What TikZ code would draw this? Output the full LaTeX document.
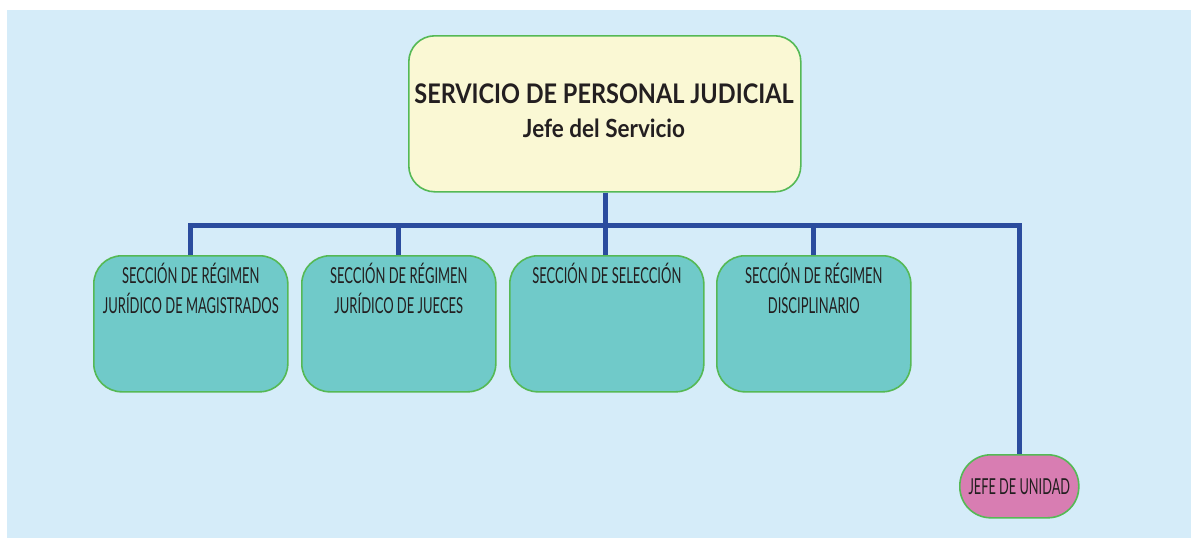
\documentclass[tikz,border=0pt]{standalone}
\usepackage{fontspec}
\setmainfont{Lato}
\usepackage{graphicx}
\definecolor{bgblue}{HTML}{D5ECF9}
\definecolor{topfill}{HTML}{FAF8D4}
\definecolor{secfill}{HTML}{70CAC9}
\definecolor{pinkfill}{HTML}{D87DB2}
\definecolor{edgegreen}{HTML}{55B955}
\definecolor{linkblue}{HTML}{2B4C9E}
\definecolor{txt}{HTML}{231F20}
\tikzset{
  basebox/.style={draw=edgegreen, line width=1.6pt, inner sep=0pt, anchor=north west},
  topbox/.style={basebox, fill=topfill, rounded corners=26pt, minimum width=392pt, minimum height=156pt},
  secbox/.style={basebox, fill=secfill, rounded corners=28pt, minimum width=194pt, minimum height=136pt},
  unitbox/.style={basebox, fill=pinkfill, rounded corners=31pt, minimum width=119pt, minimum height=63pt},
  seclabel/.style={text=txt, font=\fontsize{22}{30}\selectfont, align=center, anchor=north, inner sep=0pt},
  link/.style={draw=linkblue, line width=5pt},
}
\newcommand{\nar}[1]{\scalebox{0.59}[1]{#1}}
\begin{document}
\begin{tikzpicture}[x=1pt,y=-1pt]
\useasboundingbox (0,0) rectangle (1191,538);
\fill[bgblue] (7,10) rectangle (1191,538);

\node[topbox] (top) at (408,35) {};
\node[text=txt, anchor=base, inner sep=0pt] (t1) at (604,103) {\scalebox{0.87}[1]{\fontsize{27}{30}\selectfont\bfseries SERVICIO DE PERSONAL JUDICIAL}};
\node[text=txt, anchor=base, inner sep=0pt] (t2) at (604,137) {\scalebox{0.90}[1]{\fontsize{25}{30}\selectfont\bfseries Jefe del Servicio}};

\node[secbox] (s1) at (93,255) {};
\node[secbox] (s2) at (301,255) {};
\node[secbox] (s3) at (509,255) {};
\node[secbox] (s4) at (716,255) {};
\node[unitbox] (u) at (959,454) {};

\node[seclabel] (l1) at ([yshift=-8pt]s1.north) {\nar{SECCIÓN DE RÉGIMEN}\\\nar{JURÍDICO DE MAGISTRADOS}};
\node[seclabel] (l2) at ([yshift=-8pt]s2.north) {\nar{SECCIÓN DE RÉGIMEN}\\\nar{JURÍDICO DE JUECES}};
\node[seclabel] (l3) at ([yshift=-8pt]s3.north) {\nar{SECCIÓN DE SELECCIÓN}};
\node[seclabel] (l4) at ([yshift=-8pt]s4.north) {\nar{SECCIÓN DE RÉGIMEN}\\\nar{DISCIPLINARIO}};
\node[text=txt, inner sep=0pt, font=\fontsize{22}{25}\selectfont] (ul) at (u.center) {\scalebox{0.58}[1]{JEFE DE UNIDAD}};

\coordinate (bar) at (605,225);
\draw[link] (top.south -| bar) -- (bar);
\draw[link] (s1.north -| 190,0) |- (bar) -| (u.north -| 1019,0);
\draw[link] (s2.north -| 398,0) -- (398,225);
\draw[link] (s3.north -| bar) -- (bar);
\draw[link] (s4.north -| 813,0) -- (813,225);
\end{tikzpicture}
\end{document}
